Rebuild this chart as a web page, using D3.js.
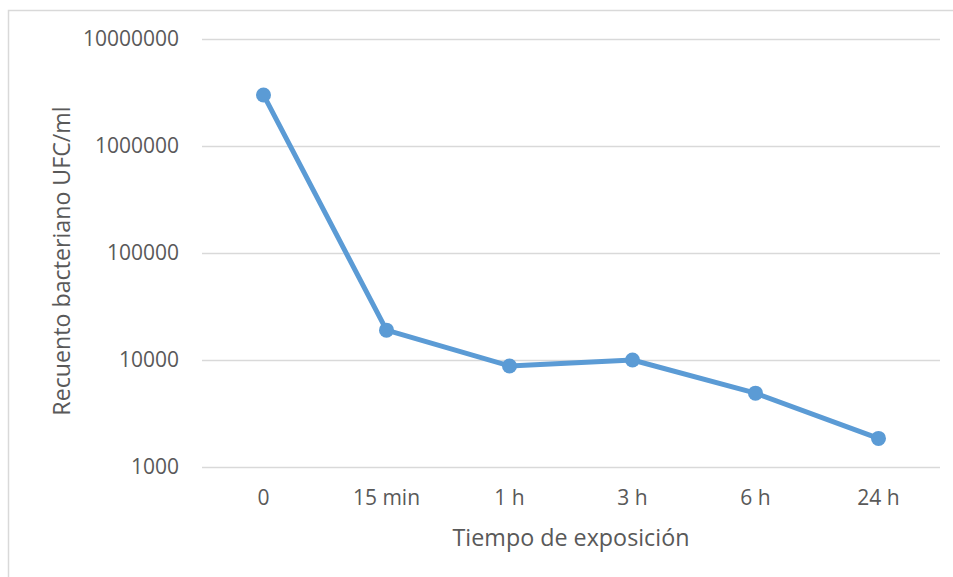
<!DOCTYPE html>
<html><head><meta charset="utf-8">
<script src="https://cdn.jsdelivr.net/npm/d3@7"></script>
<style>body{margin:0;background:#fff}svg{display:block}text{font-family:"Open Sans",sans-serif;fill:#595959}</style>
</head><body><svg id="c" width="953" height="577"></svg>
<script>
const categories = ["0","15 min","1 h","3 h","6 h","24 h"];
const values = [3000000,19000,8800,10000,4900,1850];
const yTicks = [1000,10000,100000,1000000,10000000];
const xTitle = "Tiempo de exposición";
const yTitle = "Recuento bacteriano UFC/ml";

const svg = d3.select("#c");
svg.append("rect").attr("x",8.5).attr("y",10.5).attr("width",960).attr("height",600)
  .attr("fill","#fff").attr("stroke","#d9d9d9").attr("stroke-width",1.5);

const L=202,R=940,T=39,B=467;
const FF = "'Open Sans',sans-serif";
const x = d3.scaleBand().domain(categories).range([L,R]);
const y = d3.scaleLog().domain([1000,10000000]).range([B,T]);

const gy = svg.append("g").attr("transform",`translate(${L},0)`)
  .call(d3.axisLeft(y).tickValues(yTicks).tickFormat(d3.format("d")).tickSize(-(R-L)).tickPadding(23));
gy.select(".domain").remove();
gy.selectAll(".tick line").attr("stroke","#d9d9d9").attr("stroke-width",1.3);
gy.selectAll(".tick text").attr("font-size",21).style("font-family",FF).attr("fill","#595959");

const gx = svg.append("g").attr("transform",`translate(0,${B})`)
  .call(d3.axisBottom(x).tickSize(0).tickPadding(23));
gx.select(".domain").remove();
gx.selectAll(".tick text").attr("font-size",21).style("font-family",FF).attr("fill","#595959");

const line = d3.line().x((d,i)=>x(categories[i])+x.bandwidth()/2).y(d=>y(d));
svg.append("path").datum(values).attr("d",line).attr("fill","none")
  .attr("stroke","#5b9bd5").attr("stroke-width",5).attr("stroke-linejoin","round");
svg.selectAll("circle.p").data(values).enter().append("circle")
  .attr("cx",(d,i)=>x(categories[i])+x.bandwidth()/2).attr("cy",d=>y(d)).attr("r",7.5).attr("fill","#5b9bd5");

svg.append("text").attr("x",(L+R)/2).attr("y",546).attr("text-anchor","middle")
  .attr("font-size",23.3).text(xTitle);
svg.append("text").attr("transform",`translate(70,${261}) rotate(-90)`).attr("text-anchor","middle")
  .attr("font-size",23.2).text(yTitle);
</script></body></html>
